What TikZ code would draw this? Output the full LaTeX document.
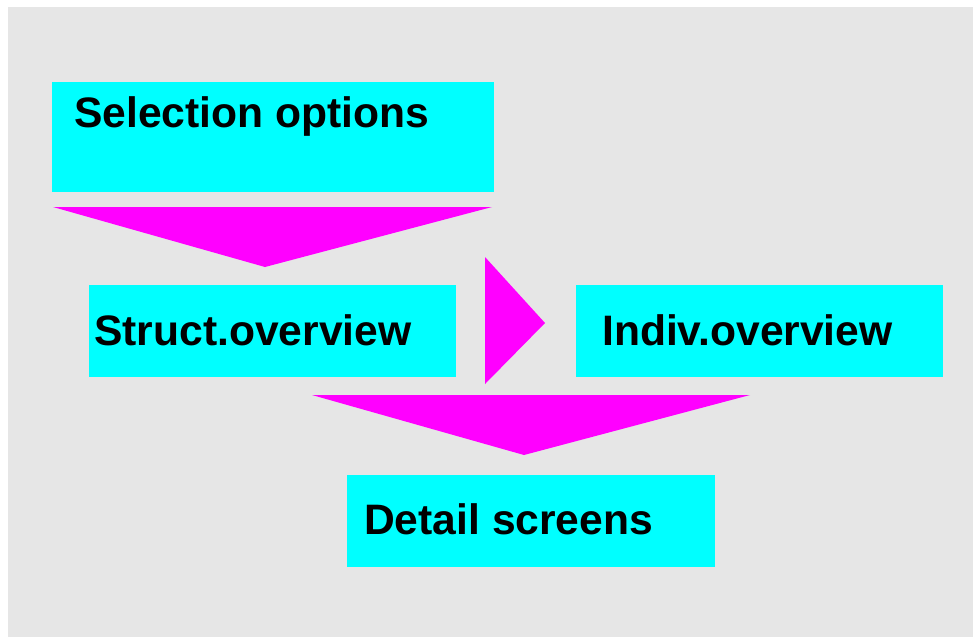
\documentclass[tikz,border=0pt]{standalone}
\usepackage{fontspec}
\setmainfont{Liberation Sans}
\definecolor{bg}{RGB}{230,230,230}
\definecolor{boxc}{RGB}{0,255,255}
\definecolor{arr}{RGB}{255,0,255}
\begin{document}
\begin{tikzpicture}[x=1pt,y=-1pt,
  box/.style={fill=boxc,draw=none,inner sep=0pt,anchor=north west},
  lbl/.style={anchor=base west,inner sep=0pt,font=\fontsize{42.6}{48}\selectfont\bfseries},
  tri/.style={fill=arr,draw=none}]
\useasboundingbox (0,0) rectangle (973,637);
\fill[bg] (8,7) rectangle (973,637);
% boxes
\node[box,minimum width=442pt,minimum height=110pt] (sel) at (52,82) {};
\node[box,minimum width=367pt,minimum height=92pt] (str) at (89,285) {};
\node[box,minimum width=367pt,minimum height=92pt] (ind) at (576,285) {};
\node[box,minimum width=368pt,minimum height=92pt] (det) at (347,475) {};
% labels
\node[lbl] (tsel) at (74,127) {Selection options};
\node[lbl] (tstr) at (94,345) {Struct.overview};
\node[lbl] (tind) at (602,345) {Indiv.overview};
\node[lbl] (tdet) at (364,534) {Detail screens};
% arrows
\fill[tri] (53,207) -- (492,207) -- (265,267) -- cycle;
\fill[tri] (485,257) -- (545,323) -- (485,384) -- cycle;
\fill[tri] (312,395) -- (750,395) -- (524,455) -- cycle;
\end{tikzpicture}
\end{document}
